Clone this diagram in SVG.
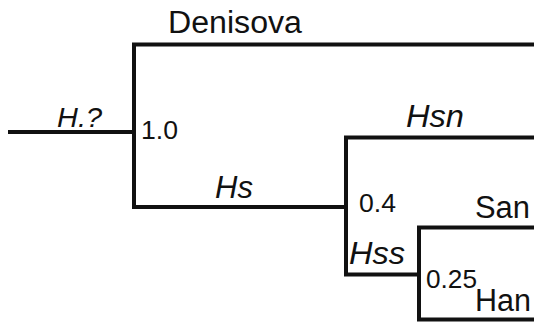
<svg xmlns="http://www.w3.org/2000/svg" width="534" height="324" viewBox="0 0 534 324">
  <style>
    .br { fill: none; stroke: #111; stroke-width: 4; stroke-linecap: square; stroke-linejoin: miter; }
    .lbl { font-family: "Liberation Sans", Arial, sans-serif; fill: #111; }
    .it { font-style: italic; }
    .tx { font-size: 31px; }
    .sup { font-size: 26px; }
  </style>
  <rect width="534" height="324" fill="#fff"/>
  <g id="connectors">
    <path class="br" d="M10 132 H134"/>
    <path class="br" d="M534 44.5 H134 V207 H346"/>
    <path class="br" d="M534 137.5 H346 V274.5 H419"/>
    <path class="br" d="M534 227.5 H419 V319.5 H534"/>
  </g>
  <g id="root"><text class="lbl it" x="57" y="127" font-size="27px" textLength="45" lengthAdjust="spacingAndGlyphs">H.?</text></g>
  <g id="node-root"><text class="lbl sup" x="141" y="139" textLength="37" lengthAdjust="spacingAndGlyphs">1.0</text></g>
  <g id="denisova"><text class="lbl tx" x="168" y="33" textLength="134" lengthAdjust="spacingAndGlyphs">Denisova</text></g>
  <g id="hs"><text class="lbl tx it" x="215" y="198">Hs</text></g>
  <g id="hsn"><text class="lbl tx it" x="406" y="127" textLength="58" lengthAdjust="spacingAndGlyphs">Hsn</text></g>
  <g id="node-hs"><text class="lbl sup" x="359" y="212" textLength="37" lengthAdjust="spacingAndGlyphs">0.4</text></g>
  <g id="san"><text class="lbl tx" x="475" y="218" textLength="55" lengthAdjust="spacingAndGlyphs">San</text></g>
  <g id="hss"><text class="lbl tx it" x="349" y="264" textLength="56" lengthAdjust="spacingAndGlyphs">Hss</text></g>
  <g id="node-hss"><text class="lbl sup" x="426" y="288" textLength="51" lengthAdjust="spacingAndGlyphs">0.25</text></g>
  <g id="han"><text class="lbl tx" x="475" y="311" textLength="56" lengthAdjust="spacingAndGlyphs">Han</text></g>
</svg>
